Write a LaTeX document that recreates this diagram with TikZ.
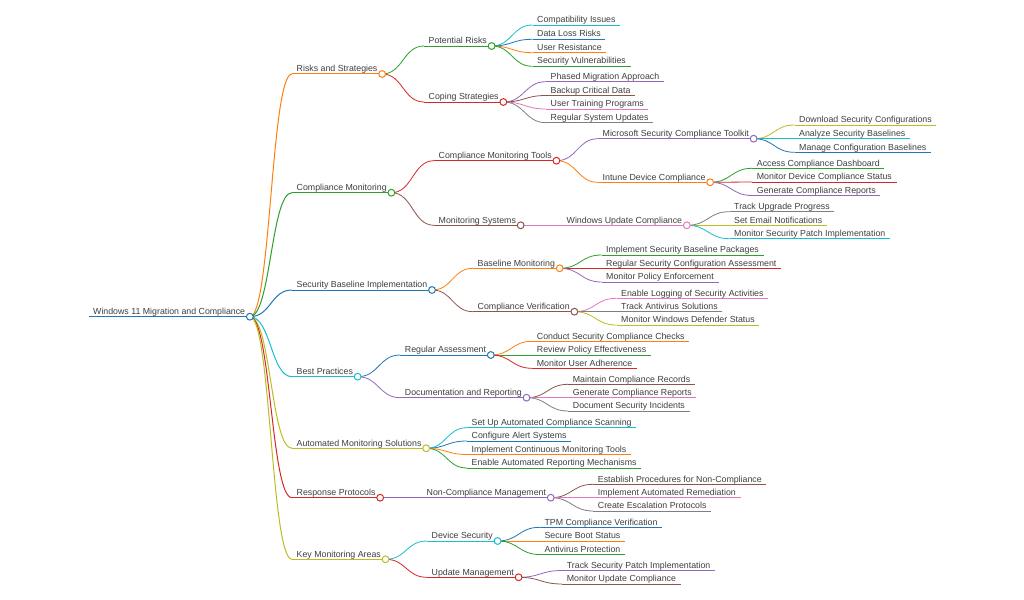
\documentclass[tikz,border=0pt]{standalone}
\usepackage{fontspec}
\setmainfont{Liberation Sans}
\usetikzlibrary{calc}
\definecolor{cBlue}{HTML}{1F77B4}
\definecolor{cOrange}{HTML}{FF7F0E}
\definecolor{cGreen}{HTML}{2CA02C}
\definecolor{cRed}{HTML}{D62728}
\definecolor{cPurple}{HTML}{9467BD}
\definecolor{cBrown}{HTML}{8C564B}
\definecolor{cPink}{HTML}{E377C2}
\definecolor{cGray}{HTML}{7F7F7F}
\definecolor{cOlive}{HTML}{BCBD22}
\definecolor{cCyan}{HTML}{17BECF}
\definecolor{txt}{HTML}{3F3F3F}
\tikzset{
  lbl/.style={inner sep=0pt, text=txt, font=\fontsize{8.8}{10}\selectfont},
  wroot/.style={line width=1.2pt},
  wone/.style={line width=1pt},
  wtwo/.style={line width=0.8pt},
  knob/.style={line width=1pt, fill=white}
}
\newcommand\mmroot[5]{%
  \coordinate (#1-s) at (#2,#3);
  \node[lbl, anchor=base west] (#1) at (#2+4.5,#3-2.3) {#5};
  \coordinate (#1-e) at ($(#1.east |- #1-s)+(4.5pt,0pt)$);
  \draw[#4] (#1-s) -- (#1-e);}
\newcommand\mmnode[6]{%
  \mmroot{#1}{#3}{#4}{#5}{#6}%
  \draw[#5] let \p1=(#2-e), \p2=(#1-s) in (\p1) .. controls ({0.5*\x1+0.5*\x2},\y1) and ({0.5*\x1+0.5*\x2},\y2) .. (\p2);}
\newcommand\mmcirc[2]{\draw[#2, knob] (#1-e) circle (3.4pt);}
\begin{document}
\begin{tikzpicture}[x=1pt,y=-1pt]
\fill[white] (0,0) rectangle (1024,599);
\useasboundingbox (0,0) rectangle (1024,599);
% root
\mmroot{root}{88.5}{316.7}{cBlue,wroot}{Windows 11 Migration and Compliance}
% level 1
\mmnode{rs}{root}{292}{74}{cOrange,wone}{Risks and Strategies}
\mmnode{cm}{root}{292}{192.7}{cGreen,wone}{Compliance Monitoring}
\mmnode{sbi}{root}{292}{290}{cBlue,wone}{Security Baseline Implementation}
\mmnode{bp}{root}{292}{376.7}{cCyan,wone}{Best Practices}
\mmnode{ams}{root}{292}{448.3}{cOlive,wone}{Automated Monitoring Solutions}
\mmnode{rp}{root}{292}{497.7}{cRed,wone}{Response Protocols}
\mmnode{kma}{root}{292}{559.3}{cOlive,wone}{Key Monitoring Areas}
% Risks and Strategies
\mmnode{pr}{rs}{424}{46}{cGreen,wtwo}{Potential Risks}
\mmnode{cs}{rs}{424}{102}{cRed,wtwo}{Coping Strategies}
\mmnode{pr1}{pr}{532.5}{25}{cCyan,wtwo}{Compatibility Issues}
\mmnode{pr2}{pr}{532.5}{39.3}{cBlue,wtwo}{Data Loss Risks}
\mmnode{pr3}{pr}{532.5}{52.7}{cOrange,wtwo}{User Resistance}
\mmnode{pr4}{pr}{532.5}{66.3}{cGreen,wtwo}{Security Vulnerabilities}
\mmnode{cs1}{cs}{546}{81.7}{cPurple,wtwo}{Phased Migration Approach}
\mmnode{cs2}{cs}{546}{95.5}{cBrown,wtwo}{Backup Critical Data}
\mmnode{cs3}{cs}{546}{109}{cPink,wtwo}{User Training Programs}
\mmnode{cs4}{cs}{546}{122.7}{cGray,wtwo}{Regular System Updates}
% Compliance Monitoring
\mmnode{cmt}{cm}{434}{160.7}{cRed,wtwo}{Compliance Monitoring Tools}
\mmnode{ms}{cm}{434}{225.3}{cBrown,wtwo}{Monitoring Systems}
\mmnode{mst}{cmt}{598}{138.7}{cPurple,wtwo}{Microsoft Security Compliance Toolkit}
\mmnode{idc}{cmt}{598}{182.3}{cOrange,wtwo}{Intune Device Compliance}
\mmnode{mst1}{mst}{794.5}{125}{cOlive,wtwo}{Download Security Configurations}
\mmnode{mst2}{mst}{794.5}{138.7}{cCyan,wtwo}{Analyze Security Baselines}
\mmnode{mst3}{mst}{794.5}{152.3}{cBlue,wtwo}{Manage Configuration Baselines}
\mmnode{idc1}{idc}{752.2}{168.3}{cGreen,wtwo}{Access Compliance Dashboard}
\mmnode{idc2}{idc}{752.2}{182}{cRed,wtwo}{Monitor Device Compliance Status}
\mmnode{idc3}{idc}{752.2}{195.5}{cPurple,wtwo}{Generate Compliance Reports}
\mmnode{wuc}{ms}{562}{225.3}{cPink,wtwo}{Windows Update Compliance}
\mmnode{wuc1}{wuc}{729.5}{211.7}{cGray,wtwo}{Track Upgrade Progress}
\mmnode{wuc2}{wuc}{729.5}{225.3}{cOlive,wtwo}{Set Email Notifications}
\mmnode{wuc3}{wuc}{729.5}{238.7}{cCyan,wtwo}{Monitor Security Patch Implementation}
% Security Baseline Implementation
\mmnode{bm}{sbi}{473}{268.3}{cOrange,wtwo}{Baseline Monitoring}
\mmnode{cv}{sbi}{473}{311.7}{cBrown,wtwo}{Compliance Verification}
\mmnode{bm1}{bm}{601.5}{255}{cGreen,wtwo}{Implement Security Baseline Packages}
\mmnode{bm2}{bm}{601.5}{268.3}{cRed,wtwo}{Regular Security Configuration Assessment}
\mmnode{bm3}{bm}{601.5}{282}{cPurple,wtwo}{Monitor Policy Enforcement}
\mmnode{cv1}{cv}{616.5}{298.3}{cPink,wtwo}{Enable Logging of Security Activities}
\mmnode{cv2}{cv}{616.5}{311.7}{cGray,wtwo}{Track Antivirus Solutions}
\mmnode{cv3}{cv}{616.5}{325}{cOlive,wtwo}{Monitor Windows Defender Status}
% Best Practices
\mmnode{ra}{bp}{400.2}{355}{cBlue,wtwo}{Regular Assessment}
\mmnode{dr}{bp}{400.2}{397.7}{cPurple,wtwo}{Documentation and Reporting}
\mmnode{ra1}{ra}{532.2}{341.3}{cOrange,wtwo}{Conduct Security Compliance Checks}
\mmnode{ra2}{ra}{532.2}{355}{cGreen,wtwo}{Review Policy Effectiveness}
\mmnode{ra3}{ra}{532.2}{368.3}{cRed,wtwo}{Monitor User Adherence}
\mmnode{dr1}{dr}{568.2}{384.3}{cBrown,wtwo}{Maintain Compliance Records}
\mmnode{dr2}{dr}{568.2}{397.7}{cPink,wtwo}{Generate Compliance Reports}
\mmnode{dr3}{dr}{568.2}{411}{cGray,wtwo}{Document Security Incidents}
% Automated Monitoring Solutions
\mmnode{ams1}{ams}{467}{427.7}{cCyan,wtwo}{Set Up Automated Compliance Scanning}
\mmnode{ams2}{ams}{467}{441}{cBlue,wtwo}{Configure Alert Systems}
\mmnode{ams3}{ams}{467}{454.5}{cOrange,wtwo}{Implement Continuous Monitoring Tools}
\mmnode{ams4}{ams}{467}{468}{cGreen,wtwo}{Enable Automated Reporting Mechanisms}
% Response Protocols
\mmnode{ncm}{rp}{422}{497.7}{cPurple,wtwo}{Non-Compliance Management}
\mmnode{ncm1}{ncm}{593.2}{484.3}{cBrown,wtwo}{Establish Procedures for Non-Compliance}
\mmnode{ncm2}{ncm}{593.2}{497.7}{cPink,wtwo}{Implement Automated Remediation}
\mmnode{ncm3}{ncm}{593.2}{511}{cGray,wtwo}{Create Escalation Protocols}
% Key Monitoring Areas
\mmnode{ds}{kma}{427}{541}{cCyan,wtwo}{Device Security}
\mmnode{um}{kma}{427}{577.3}{cRed,wtwo}{Update Management}
\mmnode{ds1}{ds}{539.8}{527.3}{cBlue,wtwo}{TPM Compliance Verification}
\mmnode{ds2}{ds}{539.8}{541}{cOrange,wtwo}{Secure Boot Status}
\mmnode{ds3}{ds}{539.8}{554.5}{cGreen,wtwo}{Antivirus Protection}
\mmnode{um1}{um}{562.2}{570.5}{cPurple,wtwo}{Track Security Patch Implementation}
\mmnode{um2}{um}{562.2}{584}{cBrown,wtwo}{Monitor Update Compliance}
% circles
\mmcirc{root}{cBlue}
\mmcirc{rs}{cOrange}
\mmcirc{pr}{cGreen}
\mmcirc{cs}{cRed}
\mmcirc{cm}{cGreen}
\mmcirc{cmt}{cRed}
\mmcirc{mst}{cPurple}
\mmcirc{idc}{cOrange}
\mmcirc{ms}{cBrown}
\mmcirc{wuc}{cPink}
\mmcirc{sbi}{cBlue}
\mmcirc{bm}{cOrange}
\mmcirc{cv}{cBrown}
\mmcirc{bp}{cCyan}
\mmcirc{ra}{cBlue}
\mmcirc{dr}{cPurple}
\mmcirc{ams}{cOlive}
\mmcirc{rp}{cRed}
\mmcirc{ncm}{cPurple}
\mmcirc{kma}{cOlive}
\mmcirc{ds}{cCyan}
\mmcirc{um}{cRed}
\end{tikzpicture}
\end{document}
